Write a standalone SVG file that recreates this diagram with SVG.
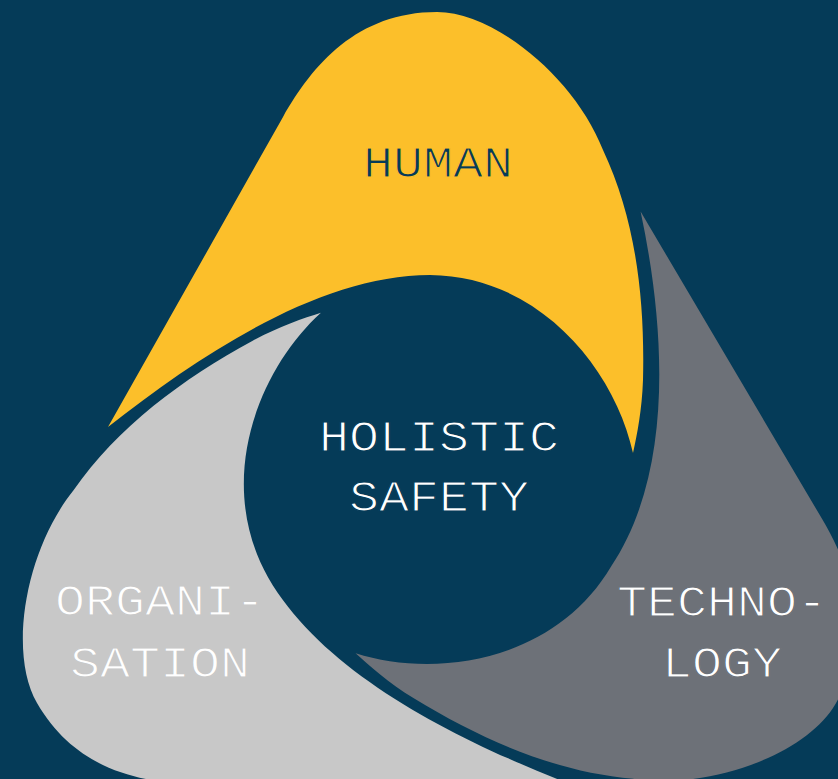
<svg xmlns="http://www.w3.org/2000/svg" xmlns:xlink="http://www.w3.org/1999/xlink" width="838" height="779" viewBox="0 0 838 779">
  <style>
    .bg { fill: #053b58; }
    .human { fill: #fcbf2a; }
    .tech { fill: #6d7178; }
    .org { fill: #c8c8c8; }
    /* monospace caption; a thin stroke in the surface colour trims the glyph weight */
    .label { font-family: "Courier New", "Nimbus Mono PS", "FreeMono", "Liberation Mono", monospace; font-size: 50px; text-anchor: middle; stroke-width: 1.4px; }
    .on-human { fill: #053b58; stroke: #fcbf2a; }
    .on-navy { fill: #ffffff; stroke: #053b58; }
    .on-tech { fill: #ffffff; stroke: #6d7178; }
    .on-org { fill: #ffffff; stroke: #c8c8c8; }
  </style>
  <defs>
    <!-- one swoosh of the triad, drawn pointing up; the others are rotated copies about (436.5, 473) -->
    <path id="swoosh" d="M108,427 L283,117 C312.5,65 357,12 437,12 C495,12 575,78 603,150 C636,220 645,300 643,380 C642,410 637,435 633,453 C615,370 540,276 430,275 C322,275 203,352 108,427 Z"/>
    <!-- same swoosh with a slightly flatter inner flank -->
    <path id="swoosh-flat" d="M108,427 L283,117 C312.5,65 357,12 437,12 C495,12 575,78 603,150 C636,220 645,300 643,380 C642,410 637,435 633,453 C615,370 540,276 430,275 C318,268 199,345 108,427 Z"/>
  </defs>

  <rect class="bg" x="0" y="0" width="838" height="779"/>

  <g id="human">
    <use xlink:href="#swoosh" href="#swoosh" class="human"/>
    <text class="label on-human" transform="translate(438 177) scale(1 0.87)">HUMAN</text>
  </g>

  <g id="technology">
    <use xlink:href="#swoosh-flat" href="#swoosh-flat" class="tech" transform="rotate(120 436.5 473)"/>
    <text class="label on-tech" transform="translate(722 616) scale(1 0.87)">TECHNO-</text>
    <text class="label on-tech" transform="translate(722 677) scale(1 0.87)">LOGY</text>
  </g>

  <g id="organisation">
    <use xlink:href="#swoosh" href="#swoosh" class="org" transform="rotate(240 436.5 473)"/>
    <text class="label on-org" transform="translate(160 615) scale(1 0.87)">ORGANI-</text>
    <text class="label on-org" transform="translate(160 677) scale(1 0.87)">SATION</text>
  </g>

  <g id="holistic-safety">
    <text class="label on-navy" transform="translate(439 451) scale(1 0.87)">HOLISTIC</text>
    <text class="label on-navy" transform="translate(439 511) scale(1 0.87)">SAFETY</text>
  </g>
</svg>
